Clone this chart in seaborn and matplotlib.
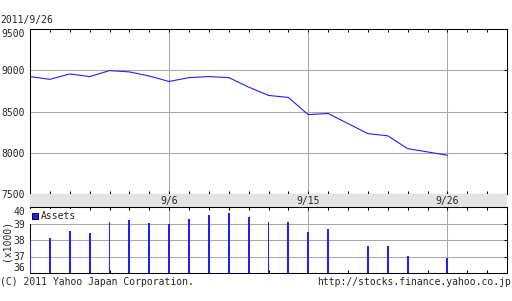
import numpy as np
import pandas as pd
import matplotlib
matplotlib.use("Agg")
import matplotlib.pyplot as plt
from matplotlib.patches import Patch
import seaborn as sns

# ---- data ----
start_date = "2011-08-26"
end_date = "2011-09-29"
trade_dates = ["2011-08-26", "2011-08-29", "2011-08-30", "2011-08-31", "2011-09-01",
               "2011-09-02", "2011-09-05", "2011-09-06", "2011-09-07", "2011-09-08",
               "2011-09-09", "2011-09-12", "2011-09-13", "2011-09-14", "2011-09-15",
               "2011-09-16", "2011-09-20", "2011-09-21", "2011-09-22", "2011-09-26"]
price = [8923, 8890, 8955, 8923, 8996, 8980, 8930, 8864, 8911, 8923,
         8911, 8796, 8695, 8670, 8462, 8476, 8232, 8205, 8050, 7970]
assets = [38.06, 38.12, 38.55, 38.42, 39.09, 39.21, 39.03, 38.98, 39.27, 39.52,
          39.64, 39.39, 39.09, 39.09, 38.48, 38.67, 37.64, 37.64, 37.03, 36.91]
label_dates = ["2011-09-06", "2011-09-15", "2011-09-26"]
label_texts = ["9/6", "9/15", "9/26"]
price_ticks = [7500, 8000, 8500, 9000, 9500]
asset_ticks = [36, 37, 38, 39, 40]
title_text = "2011/9/26"
series_name = "Assets"
unit_text = "(x1000)"
footer_left = "(C) 2011 Yahoo Japan Corporation."
footer_right = "http://stocks.finance.yahoo.co.jp"

# weekday index positions
xpos = np.busday_count(start_date, trade_dates).astype(float)
xlab = np.busday_count(start_date, label_dates).astype(float)
xmax = float(np.busday_count(start_date, end_date))
df = pd.DataFrame({"x": xpos, "price": price, "assets": assets})

sns.set_style("white")
plt.rcParams["font.family"] = ["DejaVu Sans Mono", "DejaVu Sans"]
plt.rcParams["font.size"] = 7

W, H = 512, 301
fig = plt.figure(figsize=(W / 100, H / 100), dpi=100)

def px_axes(left, top, right, bottom):
    return fig.add_axes([left / W, (H - bottom) / H, (right - left) / W, (bottom - top) / H])

BLUE = "#2020ff"
GRID = "#a8a8a8"
LW = 0.75

ax = px_axes(30, 29, 507, 194)
axs = px_axes(30, 194, 507, 207)
axv = px_axes(30, 207, 507, 273)

# price line
sns.lineplot(data=df, x="x", y="price", ax=ax, color=BLUE, linewidth=0.8,
             estimator=None)
ax.set_xlim(0, xmax)
ax.set_ylim(price_ticks[0], price_ticks[-1])
ax.set_yticks(price_ticks)
ax.set_xlabel("")
ax.set_ylabel("")

# assets bars
sns.barplot(data=df, x="x", y="assets", ax=axv, native_scale=True, width=0.1,
            color=BLUE, saturation=1, linewidth=0, antialiased=False, zorder=3)
axv.set_xlim(0, xmax)
axv.set_ylim(asset_ticks[0], asset_ticks[-1])
axv.set_yticks(asset_ticks)
axv.set_xlabel("")
axv.set_ylabel("")

for a in (ax, axv):
    a.set_xticks(xlab)
    a.set_xticks(np.arange(0, xmax + 1), minor=True)
    a.set_xticklabels([])
    a.grid(True, which="major", axis="both", color=GRID, linewidth=LW)
    a.set_axisbelow(True)
    a.tick_params(axis="x", which="both", direction="in", top=True, bottom=True,
                  length=2.2, width=LW, color="black", labelbottom=False)
    a.tick_params(axis="y", which="both", direction="in", left=False, right=True,
                  length=2.2, width=LW, color="black", labelleft=True, pad=3.6,
                  labelsize=7)
    for s in a.spines.values():
        s.set_visible(True)
        s.set_color("black")
        s.set_linewidth(LW)

# adjust edge label alignment
ylabs = ax.get_yticklabels()
ylabs[-1].set_va("top")
vlabs = axv.get_yticklabels()
vlabs[-1].set_va("top")
vlabs[0].set_va("bottom")

# date strip
axs.set_facecolor("#e4e4e4")
axs.set_xlim(0, xmax)
axs.set_ylim(0, 1)
axs.set_xticks([])
axs.set_yticks([])
for s in axs.spines.values():
    s.set_visible(False)
for xv, t in zip(xlab, label_texts):
    axs.text(xv, 0.45, t, ha="center", va="center", fontsize=7)

# legend
leg = axv.legend(handles=[Patch(facecolor=BLUE, edgecolor="black", linewidth=0.7)],
                 labels=[series_name], loc="upper left", bbox_to_anchor=(0.0, 0.975),
                 frameon=True, fancybox=False, framealpha=1, facecolor="white",
                 edgecolor="none", fontsize=7, handlelength=0.6, handleheight=0.6,
                 handletextpad=0.3, borderpad=0.25, borderaxespad=0.0)
leg.set_zorder(5)

# texts
fig.text(0.5 / W, 1 - 20.5 / H, title_text, ha="left", va="center", fontsize=7)
fig.text(6.5 / W, 1 - 240 / H, unit_text, ha="center", va="center", rotation=90, fontsize=7)
fig.text(0.5 / W, 1 - 282 / H, footer_left, ha="left", va="center", fontsize=7)
fig.text(511 / W, 1 - 282 / H, footer_right, ha="right", va="center", fontsize=7)

fig.savefig("out.png", dpi=100, facecolor="white")
